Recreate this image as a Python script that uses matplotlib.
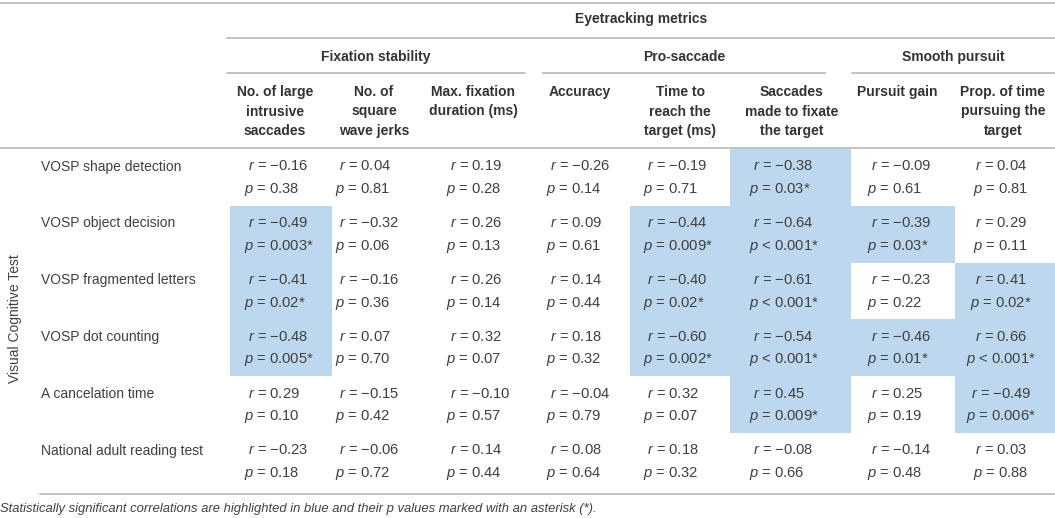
import matplotlib.pyplot as plt
from matplotlib.patches import Rectangle

plt.rcParams['font.family'] = ['Liberation Sans', 'DejaVu Sans']
plt.rcParams['mathtext.fontset'] = 'custom'
plt.rcParams['mathtext.rm'] = 'Liberation Sans'
plt.rcParams['mathtext.it'] = 'Liberation Sans:italic'

# data
tests = ['VOSP shape detection', 'VOSP object decision', 'VOSP fragmented letters',
         'VOSP dot counting', 'A cancelation time', 'National adult reading test']
groups = ['Fixation stability', 'Pro-saccade', 'Smooth pursuit']
metrics = [['No. of large', 'intrusive', 'saccades'],
           ['No. of', 'square', 'wave jerks'],
           ['Max. fixation', 'duration (ms)'],
           ['Accuracy'],
           ['Time to', 'reach the', 'target (ms)'],
           ['Saccades', 'made to fixate', 'the target'],
           ['Pursuit gain'],
           ['Prop. of time', 'pursuing the', 'target']]
r_vals = [[-0.16, 0.04, 0.19, -0.26, -0.19, -0.38, -0.09, 0.04],
          [-0.49, -0.32, 0.26, 0.09, -0.44, -0.64, -0.39, 0.29],
          [-0.41, -0.16, 0.26, 0.14, -0.40, -0.61, -0.23, 0.41],
          [-0.48, 0.07, 0.32, 0.18, -0.60, -0.54, -0.46, 0.66],
          [0.29, -0.15, -0.10, -0.04, 0.32, 0.45, 0.25, -0.49],
          [-0.23, -0.06, 0.14, 0.08, 0.18, -0.08, -0.14, 0.03]]
p_vals = [['0.38', '0.81', '0.28', '0.14', '0.71', '0.03', '0.61', '0.81'],
          ['0.003', '0.06', '0.13', '0.61', '0.009', '<0.001', '0.03', '0.11'],
          ['0.02', '0.36', '0.14', '0.44', '0.02', '<0.001', '0.22', '0.02'],
          ['0.005', '0.70', '0.07', '0.32', '0.002', '<0.001', '0.01', '<0.001'],
          ['0.10', '0.42', '0.57', '0.79', '0.07', '0.009', '0.19', '0.006'],
          ['0.18', '0.72', '0.44', '0.64', '0.32', '0.66', '0.48', '0.88']]

# layout (pixel coords)
col_edges = [230, 332, 430, 530, 630, 730, 851, 955, 1055]
text_x = [244, 335, 446, 546, 643, 749, 867, 1001]
head_x = [275, 374, 473, 580, 680, 792, 897, 1003]
group_spans = [(227, 525), (543, 825), (852, 1055)]
row_top = 149
row_h = 56.8
line_c = '#b3b3b3'
txt_c = '#404040'
blue = '#bdd7ee'
val_fs = 10.6

fig = plt.figure(figsize=(10.55, 5.18), dpi=100)
ax = fig.add_axes([0, 0, 1, 1])
ax.set_xlim(0, 1055)
ax.set_ylim(518, 0)
ax.axis('off')

# rules
ax.plot([0, 1055], [2.5, 2.5], color=line_c, lw=1.1)
ax.plot([227, 1055], [38, 38], color=line_c, lw=1.1)
for x0, x1 in group_spans:
    ax.plot([x0, x1], [73, 73], color=line_c, lw=1.1)
ax.plot([0, 1055], [148, 148], color=line_c, lw=1.1)
ax.plot([40, 1055], [494, 494], color=line_c, lw=1.1)

# headers
ax.text(641, 19, 'Eyetracking metrics', ha='center', va='center',
        fontsize=10, fontweight='bold', color='#333333')
for (x0, x1), g in zip(group_spans, groups):
    ax.text((x0 + x1) / 2, 57, g, ha='center', va='center',
            fontsize=10, fontweight='bold', color='#333333')
for hx, lines in zip(head_x, metrics):
    for k, s in enumerate(lines):
        ax.text(hx, 92 + 19.5 * k, s, ha='center', va='center',
                fontsize=10, fontweight='bold', color='#333333')

ax.text(15, 319, 'Visual Cognitive Test', rotation=90, ha='center', va='center',
        fontsize=10, color=txt_c)

def sig(p):
    return p.startswith('<') or float(p) < 0.05

for i, name in enumerate(tests):
    top = row_top + row_h * i
    ry = top + 17.5
    py = ry + 23
    ax.text(41, ry, name, ha='left', va='center', fontsize=10, color=txt_c)
    for j in range(len(text_x)):
        p = p_vals[i][j]
        if sig(p):
            ax.add_patch(Rectangle((col_edges[j], top), col_edges[j + 1] - col_edges[j],
                                   row_h, facecolor=blue, edgecolor='none', zorder=0))
        rs = ('%.2f' % r_vals[i][j]).replace('-', '\u2212')
        rt = '$r$ = ' + rs
        if p.startswith('<'):
            pt = '$p$ < ' + p[1:]
        else:
            pt = '$p$ = ' + p
        if sig(p):
            pt += '*'
        if j == 7:
            ax.text(text_x[j], ry, rt, ha='center', va='center', fontsize=val_fs, color=txt_c)
            ax.text(text_x[j], py, pt, ha='center', va='center', fontsize=val_fs, color=txt_c)
        else:
            ax.text(text_x[j] + 4, ry, rt, ha='left', va='center', fontsize=val_fs, color=txt_c)
            ax.text(text_x[j], py, pt, ha='left', va='center', fontsize=val_fs, color=txt_c)

ax.text(0, 509, 'Statistically significant correlations are highlighted in blue and '
        'their p values marked with an asterisk (*).', ha='left', va='center',
        fontsize=9.4, style='italic', color=txt_c)

fig.savefig('out.png', dpi=100)
